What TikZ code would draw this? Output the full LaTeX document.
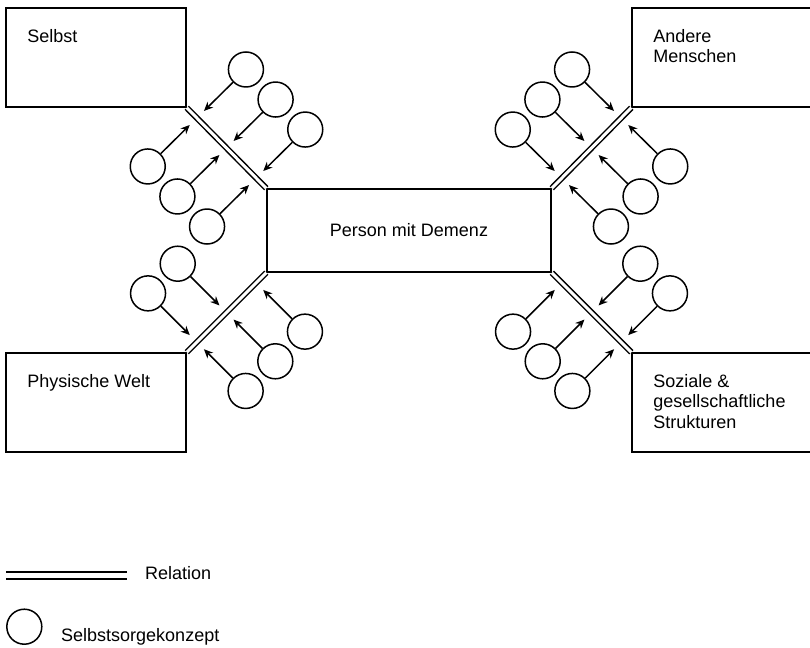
\documentclass[tikz,border=0pt]{standalone}
\usepackage{fontspec}
\setmainfont{Liberation Sans}
\usetikzlibrary{positioning,arrows.meta,calc}

\begin{document}
\begin{tikzpicture}[
  x=1pt, y=-1pt,
  font=\fontsize{18pt}{20.5pt}\selectfont,
  box/.style={draw, line width=1.5pt, minimum width=180pt, minimum height=99pt, inner sep=0pt},
  boxtext/.style={anchor=north west, inner sep=0pt, align=left},
  relation/.style={draw, line width=1.5pt, double, double distance=3pt},
  konzept/.style={circle, draw, line width=1.5pt, minimum size=35pt, inner sep=0pt},
  arrow/.style={-{Stealth[length=9pt, width=8pt]}, line width=1.5pt}
]
\useasboundingbox (0,0) rectangle (810,647);

% Boxes (four corners and centre)
\node[box] (selbst) at (96,57.5) {};
\node[box] (andere) at (722,57.5) {};
\node[box] (physisch) at (96,402.5) {};
\node[box] (sozial) at (722,402.5) {};
\node[box, minimum width=284pt, minimum height=83pt] (pmd) at (409,230.5) {Person mit Demenz};

\node[boxtext] (selbst-t) at ([xshift=22pt, yshift=-22pt]selbst.north west) {Selbst};
\node[boxtext] (andere-t) at ([xshift=22pt, yshift=-22pt]andere.north west) {Andere\\Menschen};
\node[boxtext] (physisch-t) at ([xshift=22pt, yshift=-22pt]physisch.north west) {Physische Welt};
\node[boxtext] (sozial-t) at ([xshift=22pt, yshift=-22pt]sozial.north west) {Soziale \&\\gesellschaftliche\\Strukturen};

% Relations with their concepts (arrows point to the relation)
\foreach \p/\q/\r/\nl/\nr in {selbst.south east/pmd.north west/rs/3/3,
                              pmd.north east/andere.south west/ra/3/3,
                              physisch.north east/pmd.south west/rp/2/3,
                              sozial.north west/pmd.south east/rk/3/2}{
  \draw[relation] (\p) -- (\q);
  \foreach \a/\s/\m in {90/l/\nl, -90/r/\nr}
    \foreach \f/\i in {0.127/1, 0.5/2, 0.873/3}{
      \ifnum\i>\m\relax\else
        \node[konzept] (\r-\s\i) at ($(\p)!\f!(\q)!69pt!\a:(\q)$) {};
        \coordinate (\r-\s\i-end) at ($(\p)!\f!(\q)!10pt!\a:(\q)$);
        \draw[arrow] (\r-\s\i) -- (\r-\s\i-end);
      \fi
    }
}

% Legend
\coordinate (leg-a) at (6,575.5);
\coordinate (leg-b) at (127,575.5);
\draw[relation, double distance=5.5pt] (leg-a) -- (leg-b);
\node[anchor=west, inner sep=0pt] (leg-rel) at (145,573) {Relation};
\node[konzept] (leg-circ) at (24.3,626.7) {};
\node[anchor=base west, inner sep=0pt] (leg-konz) at (61,641.7) {Selbstsorgekonzept};

\end{tikzpicture}
\end{document}
